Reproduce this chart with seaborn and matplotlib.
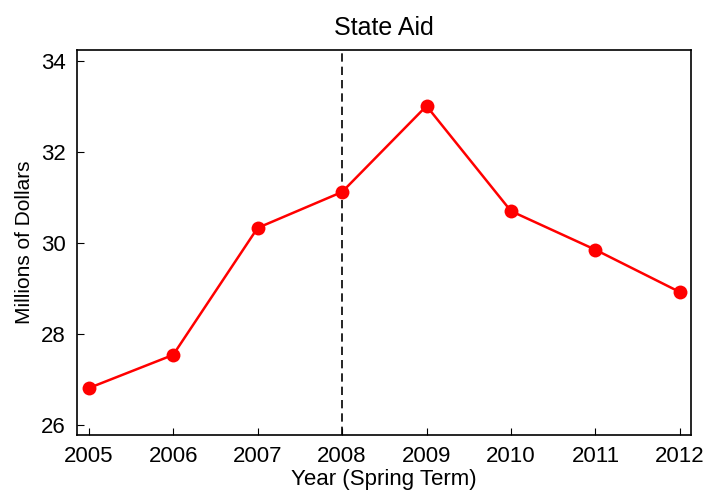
import seaborn as sns
import matplotlib.pyplot as plt
import pandas as pd

years = [2005, 2006, 2007, 2008, 2009, 2010, 2011, 2012]
aid = [26.81, 27.54, 30.33, 31.12, 33.01, 30.70, 29.85, 28.92]

df = pd.DataFrame({"year": years, "aid": aid})

sns.set_style("ticks")
plt.rcParams['font.family'] = ['Liberation Sans', 'DejaVu Sans']
plt.rcParams['text.color'] = 'black'
plt.rcParams['axes.labelcolor'] = 'black'
plt.rcParams['xtick.color'] = 'black'
plt.rcParams['ytick.color'] = 'black'

fig = plt.figure(figsize=(7.05, 4.98), dpi=100)
ax = fig.add_axes([0.109, 0.1265, 0.871, 0.7731])

ax.axvline(2008, color="black", linestyle=(0, (5, 3)), linewidth=1.2, zorder=1)
sns.lineplot(data=df, x="year", y="aid", color="red", linewidth=1.8,
             marker="o", markersize=10, markeredgewidth=0, ax=ax, zorder=3)

ax.set_xlim(2004.86, 2012.13)
ax.set_ylim(25.78, 34.24)
ax.set_xticks(years)
ax.set_yticks([26, 28, 30, 32, 34])
ax.tick_params(direction="in", length=5, labelsize=16, pad=8, top=False, right=False)
for s in ax.spines.values():
    s.set_visible(True)
    s.set_linewidth(1.2)
    s.set_color("black")

ax.set_title("State Aid", fontsize=18, pad=11)
ax.set_xlabel("Year (Spring Term)", fontsize=16, labelpad=1)
ax.set_ylabel("Millions of Dollars", fontsize=15, labelpad=5)

plt.savefig("out.png", dpi=100)
